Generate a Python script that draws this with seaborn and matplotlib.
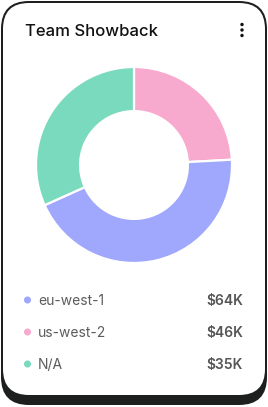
import matplotlib
matplotlib.use("Agg")
import matplotlib.pyplot as plt
from matplotlib.patches import FancyBboxPatch, Circle
import seaborn as sns

# ---- data ----
title = "Team Showback"
regions = ["eu-west-1", "us-west-2", "N/A"]
region_values = [64, 46, 35]          # $K, as listed in the legend
region_colors = ["#A0A8FE", "#F8A9CE", "#7ADABD"]
value_labels = ["$64K", "$46K", "$35K"]

# slices as drawn in the donut, clockwise from 12 o'clock
slice_names = ["us-west-2", "eu-west-1", "N/A"]
slice_values = [35, 64, 46]

sns.set_theme(style="white")
plt.rcParams["font.family"] = ["Inter", "DejaVu Sans"]

W, H = 268, 407
fig = plt.figure(figsize=(W / 100, H / 100), dpi=100)
fig.patch.set_facecolor("white")

bg = fig.add_axes([0, 0, 1, 1])
bg.set_xlim(0, W)
bg.set_ylim(H, 0)
bg.axis("off")

dark = "#1c1f1e"
# shadow
bg.add_patch(FancyBboxPatch((1, 9), 266, 396, boxstyle="round,pad=0,rounding_size=28",
                            fc=dark, ec="none", zorder=1))
# border
bg.add_patch(FancyBboxPatch((1, 1), 266, 396, boxstyle="round,pad=0,rounding_size=28",
                            fc=dark, ec="none", zorder=2))
# card
bg.add_patch(FancyBboxPatch((3, 3), 262, 392, boxstyle="round,pad=0,rounding_size=26",
                            fc="white", ec="none", zorder=3))

bg.text(25, 36, title, fontsize=12, color="#111111", ha="left", va="baseline",
        fontweight="medium", zorder=5)
for yy in (24.5, 30, 35.5):
    bg.add_patch(Circle((242, yy), 1.7, fc="#111111", ec="none", zorder=5))

# legend rows
row_y = [300, 332, 364]
sns.scatterplot(x=[27.5] * 3, y=row_y, hue=regions, palette=region_colors,
                s=26, linewidth=0, legend=False, ax=bg, zorder=6)
bg.set_xlim(0, W)
bg.set_ylim(H, 0)
bg.axis("off")
for y, lab, val in zip(row_y, regions, value_labels):
    bg.text(38, y + 5, lab, fontsize=10, color="#5c5c5c", ha="left", va="baseline", zorder=6)
    bg.text(243, y + 5, val, fontsize=10, color="#555555", ha="right", va="baseline",
            fontweight="semibold", zorder=6)

# donut
cx, cy, r = 134, 165, 98
ax = fig.add_axes([(cx - r) / W, (H - cy - r) / H, 2 * r / W, 2 * r / H])
ax.set_facecolor("none")
cmap = dict(zip(regions, region_colors))
ax.pie(slice_values, colors=[cmap[n] for n in slice_names], startangle=90,
       counterclock=False, radius=1,
       wedgeprops=dict(width=0.45, edgecolor="white", linewidth=1.6))
ax.set_xlim(-1, 1)
ax.set_ylim(-1, 1)
ax.set_aspect("equal")
ax.axis("off")

fig.savefig("out.png", dpi=100, facecolor="white")
